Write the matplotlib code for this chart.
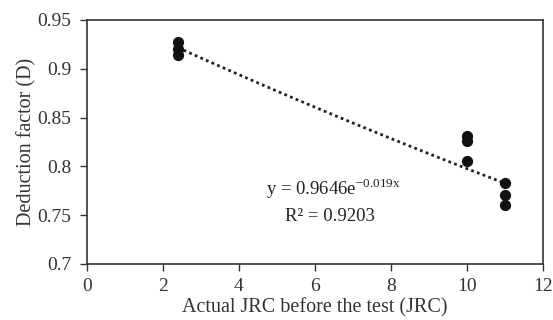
import matplotlib.pyplot as plt
import numpy as np

jrc = [2.4, 2.4, 2.4, 10, 10, 10, 11, 11, 11]
deduction = [0.927, 0.920, 0.914, 0.831, 0.826, 0.806, 0.783, 0.771, 0.760]

# exponential trendline y = a * exp(b * x)
fit_a = 0.9646
fit_b = -0.019
fit_range = [2.4, 11]

x_ticks = [0, 2, 4, 6, 8, 10, 12]
y_ticks = [0.7, 0.75, 0.8, 0.85, 0.9, 0.95]
y_labels = ["0.7", "0.75", "0.8", "0.85", "0.9", "0.95"]


def main() -> None:
    plt.rcParams["font.family"] = ["Liberation Serif", "DejaVu Serif"]

    fig = plt.figure(figsize=(5.53, 3.2), dpi=100)
    ax = fig.add_axes([0.157, 0.175, 0.825, 0.7625])

    xs = np.linspace(fit_range[0], fit_range[1], 100)
    ax.plot(
        xs,
        fit_a * np.exp(fit_b * xs),
        color="#222222",
        linestyle=(0, (1, 1.2)),
        linewidth=2.0,
    )

    ax.scatter(jrc, deduction, s=50, color="#111111", zorder=3)

    ax.text(4.72, 0.777, r"y = 0.9646e$^{\mathregular{-0.019x}}$",
            fontsize=13.5, va="center", color="#222222")
    ax.text(5.2, 0.749, "R² = 0.9203",
            fontsize=13.5, va="center", color="#222222")

    ax.set_xlim(0, 12)
    ax.set_ylim(0.7, 0.95)
    ax.set_xticks(x_ticks)
    ax.set_yticks(y_ticks)
    ax.set_yticklabels(y_labels)

    ax.set_xlabel("Actual JRC before the test (JRC)", fontsize=14.5,
                  color="#333333", labelpad=2)
    ax.set_ylabel("Deduction factor (D)", fontsize=14.5,
                  color="#333333", labelpad=1)

    ax.tick_params(direction="out", length=5, width=1, colors="#333333",
                   labelsize=14)
    ax.tick_params(axis="y", pad=6)
    ax.tick_params(axis="x", pad=5)
    for spine in ax.spines.values():
        spine.set_color("#333333")
        spine.set_linewidth(1.2)

    fig.savefig("out.png", dpi=100)
    plt.close(fig)


if __name__ == "__main__":
    main()
